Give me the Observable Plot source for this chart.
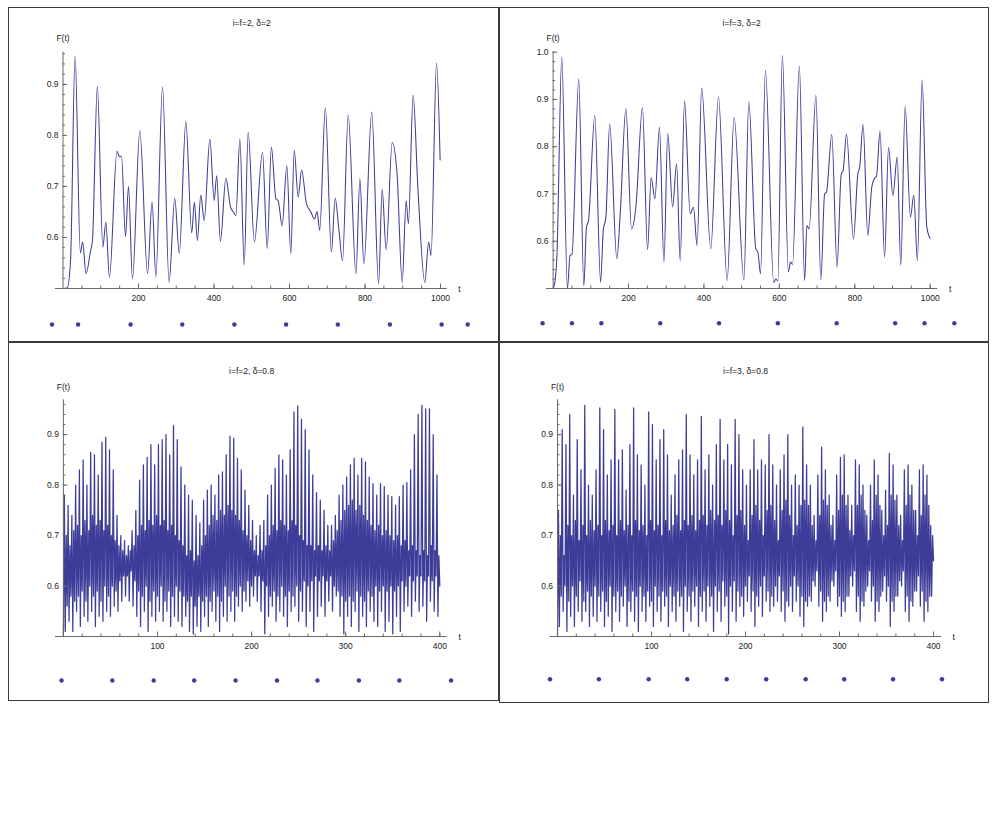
<!DOCTYPE html>
<html><head><meta charset="utf-8">
<script src="https://cdn.jsdelivr.net/npm/d3@7"></script>
<script src="https://cdn.jsdelivr.net/npm/@observablehq/plot@0.6"></script>
<style>
body{margin:0;background:#fff;}
#wrap{position:relative;width:997px;height:822px;background:#fff;overflow:hidden;}
.border{position:absolute;box-sizing:border-box;border:1px solid #3a3a3a;}
.pl{position:absolute;}
.pl svg{overflow:visible;}
</style></head><body><div id="wrap"></div>
<script>
// ---------- Panel 1: i=f=2, delta=2 (smooth curve, key points) ----------
const title1 = "i=f=2, δ=2";
const t1 = [0,11,20,32,46,52,61,73,78,91,105.5,113.5,123,143,150,155,165.6,173.5,184,203.5,224,236,246,263.6,281,296,308,325.5,341,348,356,365,374,389,400.5,407,417,431.5,444,452.5,458,468.5,480,490.5,507,528.5,541,552,564,570,580.5,593,603.5,612.5,623,632,645,656,666,673,680,695,711,721,731,740.5,755.5,776,786.5,797,818,836,845.5,856,872,885,898.5,909,915,927.5,940,958.5,968.5,975,989.5,999];
const f1 = [0.500,0.501,0.555,0.956,0.570,0.591,0.529,0.574,0.594,0.896,0.581,0.630,0.522,0.769,0.758,0.759,0.602,0.700,0.519,0.809,0.530,0.670,0.523,0.895,0.512,0.677,0.569,0.827,0.609,0.669,0.594,0.683,0.633,0.793,0.672,0.721,0.593,0.716,0.659,0.649,0.643,0.793,0.546,0.806,0.591,0.767,0.578,0.777,0.676,0.672,0.623,0.741,0.568,0.771,0.679,0.732,0.666,0.651,0.636,0.651,0.614,0.854,0.571,0.677,0.614,0.555,0.840,0.529,0.715,0.548,0.846,0.509,0.695,0.576,0.786,0.724,0.512,0.672,0.627,0.879,0.698,0.512,0.591,0.565,0.942,0.752];
const dots1 = [-29,40,179,316,454,591,728,866,1003,1072];

// ---------- Panel 2: i=f=3, delta=2 ----------
const title2 = "i=f=3, δ=2";
const t2 = [0,5,10,23,38,45,50,68,81.5,88.5,94,110.5,126,133,140,150,169,178,193,208,219.5,237,250.5,260,270,282,294,304,317,327.5,337,348.5,363.5,372,382,394,418,438.5,461.5,480,506,519,537.5,543,550,563,585,590.5,596,608,624,629.5,635,653,667,673,679,697,710,720,725,739,753,764,769,778,796.5,808,813,822,834.5,845,854,857.5,867,879,889.5,901,912.5,922,933.5,947.5,956.5,966,978.5,991,1000];
const f2 = [0.500,0.515,0.566,0.990,0.500,0.570,0.572,0.943,0.506,0.630,0.644,0.866,0.513,0.623,0.651,0.848,0.563,0.658,0.881,0.626,0.672,0.883,0.582,0.735,0.690,0.841,0.556,0.828,0.673,0.764,0.559,0.897,0.658,0.672,0.591,0.924,0.584,0.905,0.517,0.862,0.518,0.895,0.584,0.577,0.531,0.962,0.513,0.520,0.516,0.993,0.535,0.556,0.551,0.971,0.517,0.633,0.626,0.909,0.518,0.700,0.704,0.826,0.545,0.742,0.749,0.827,0.605,0.742,0.757,0.847,0.612,0.714,0.735,0.737,0.833,0.566,0.799,0.697,0.778,0.549,0.885,0.651,0.697,0.559,0.941,0.630,0.606];
const dots2 = [-28,50,128,284,440,596,752,907,985,1064];

// ---------- Panel 3: i=f=2, delta=0.8 (one value per unit of t, t = 0..400) ----------
const title3 = "i=f=2, δ=0.8";
const f3 = [0.50,
0.78,0.51,0.70,0.56, 0.76,0.53,0.68,0.58, 0.74,0.51,0.71,0.57, 0.80,0.55,0.72,0.58, 0.83,0.52,0.70,0.59,
0.85,0.54,0.73,0.57, 0.80,0.53,0.71,0.60, 0.865,0.55,0.74,0.58, 0.86,0.52,0.72,0.59, 0.82,0.54,0.73,0.57,
0.885,0.53,0.71,0.60, 0.895,0.55,0.72,0.58, 0.87,0.54,0.70,0.60, 0.83,0.56,0.69,0.59, 0.74,0.55,0.68,0.61,
0.70,0.57,0.67,0.62, 0.69,0.58,0.66,0.62, 0.68,0.57,0.67,0.63, 0.71,0.56,0.68,0.61, 0.75,0.54,0.70,0.59,
0.81,0.52,0.72,0.58, 0.84,0.55,0.71,0.60, 0.855,0.51,0.73,0.57, 0.88,0.54,0.72,0.59, 0.84,0.53,0.74,0.58,
0.88,0.55,0.72,0.60, 0.89,0.53,0.73,0.57, 0.90,0.55,0.71,0.59, 0.86,0.52,0.72,0.58, 0.918,0.54,0.70,0.60,
0.89,0.53,0.69,0.59, 0.836,0.52,0.68,0.58, 0.80,0.54,0.66,0.57, 0.78,0.51,0.67,0.58, 0.77,0.505,0.65,0.56,
0.74,0.52,0.66,0.58, 0.725,0.51,0.68,0.57, 0.77,0.54,0.70,0.58, 0.79,0.52,0.72,0.57, 0.80,0.55,0.74,0.59,
0.78,0.53,0.73,0.58, 0.82,0.51,0.75,0.57, 0.826,0.54,0.74,0.60, 0.86,0.53,0.76,0.58, 0.897,0.55,0.75,0.59,
0.893,0.53,0.74,0.58, 0.853,0.56,0.73,0.60, 0.83,0.55,0.71,0.59, 0.79,0.57,0.70,0.61, 0.76,0.56,0.69,0.60,
0.73,0.58,0.67,0.62, 0.70,0.57,0.66,0.62, 0.72,0.55,0.67,0.61, 0.73,0.505,0.68,0.60, 0.78,0.54,0.70,0.58,
0.80,0.56,0.72,0.59, 0.833,0.53,0.71,0.58, 0.86,0.55,0.73,0.60, 0.85,0.54,0.72,0.58, 0.82,0.52,0.71,0.59,
0.87,0.55,0.73,0.58, 0.945,0.56,0.72,0.60, 0.957,0.53,0.70,0.59, 0.93,0.55,0.69,0.61, 0.91,0.52,0.68,0.60,
0.87,0.55,0.68,0.61, 0.82,0.51,0.67,0.62, 0.785,0.54,0.68,0.61, 0.77,0.56,0.67,0.62, 0.75,0.54,0.68,0.61,
0.72,0.57,0.67,0.62, 0.72,0.55,0.69,0.60, 0.74,0.58,0.71,0.59, 0.78,0.54,0.73,0.58, 0.80,0.505,0.75,0.57,
0.816,0.54,0.76,0.58, 0.84,0.52,0.77,0.57, 0.853,0.55,0.75,0.59, 0.82,0.51,0.76,0.58, 0.853,0.54,0.74,0.57,
0.846,0.52,0.73,0.59, 0.816,0.55,0.72,0.58, 0.803,0.53,0.71,0.60, 0.78,0.52,0.72,0.59, 0.803,0.55,0.70,0.60,
0.797,0.51,0.71,0.59, 0.78,0.53,0.70,0.60, 0.777,0.505,0.69,0.59, 0.76,0.54,0.70,0.60, 0.777,0.51,0.68,0.61,
0.80,0.55,0.69,0.60, 0.805,0.56,0.67,0.62, 0.83,0.54,0.68,0.61, 0.90,0.57,0.67,0.62, 0.94,0.55,0.66,0.62,
0.958,0.56,0.67,0.61, 0.951,0.53,0.66,0.62, 0.951,0.57,0.68,0.61, 0.90,0.55,0.67,0.62, 0.82,0.54,0.66,0.60];
const dots3 = [-2,52,96,139,183,227,270,314,357,412];

// ---------- Panel 4: i=f=3, delta=0.8 (one value per unit of t, t = 0..400) ----------
const title4 = "i=f=3, δ=0.8";
const f4 = [0.50,
0.75,0.52,0.70,0.58, 0.91,0.55,0.66,0.60, 0.88,0.51,0.72,0.57, 0.94,0.54,0.70,0.60, 0.78,0.52,0.73,0.58,
0.89,0.55,0.69,0.61, 0.83,0.53,0.72,0.57, 0.958,0.55,0.70,0.59, 0.80,0.52,0.73,0.58, 0.78,0.54,0.71,0.60,
0.83,0.53,0.72,0.58, 0.953,0.55,0.70,0.59, 0.91,0.52,0.73,0.57, 0.82,0.54,0.71,0.60, 0.85,0.51,0.72,0.58,
0.95,0.55,0.70,0.59, 0.85,0.53,0.73,0.58, 0.87,0.56,0.71,0.60, 0.79,0.52,0.72,0.57, 0.88,0.55,0.70,0.59,
0.953,0.53,0.73,0.58, 0.86,0.51,0.71,0.60, 0.84,0.55,0.72,0.58, 0.80,0.53,0.70,0.59, 0.945,0.56,0.73,0.57,
0.92,0.52,0.71,0.60, 0.85,0.55,0.72,0.58, 0.89,0.53,0.70,0.59, 0.91,0.56,0.73,0.58, 0.86,0.52,0.71,0.60,
0.78,0.55,0.72,0.58, 0.82,0.53,0.74,0.59, 0.85,0.56,0.71,0.58, 0.87,0.51,0.73,0.60, 0.94,0.55,0.72,0.58,
0.86,0.53,0.74,0.59, 0.82,0.56,0.71,0.60, 0.85,0.52,0.73,0.58, 0.936,0.55,0.74,0.59, 0.83,0.53,0.72,0.60,
0.86,0.56,0.75,0.58, 0.80,0.51,0.73,0.60, 0.88,0.55,0.74,0.59, 0.93,0.53,0.72,0.61, 0.85,0.56,0.75,0.58,
0.88,0.505,0.73,0.60, 0.84,0.55,0.70,0.61, 0.93,0.53,0.74,0.59, 0.90,0.56,0.75,0.58, 0.83,0.54,0.72,0.60,
0.80,0.57,0.69,0.62, 0.83,0.55,0.74,0.59, 0.89,0.52,0.76,0.58, 0.83,0.56,0.73,0.60, 0.85,0.54,0.70,0.62,
0.84,0.57,0.75,0.59, 0.90,0.55,0.76,0.58, 0.84,0.56,0.73,0.60, 0.80,0.57,0.69,0.62, 0.83,0.55,0.75,0.59,
0.86,0.53,0.77,0.57, 0.90,0.56,0.74,0.60, 0.80,0.55,0.70,0.62, 0.82,0.57,0.72,0.60, 0.80,0.54,0.76,0.58,
0.915,0.52,0.77,0.57, 0.84,0.56,0.76,0.58, 0.80,0.57,0.72,0.61, 0.74,0.60,0.69,0.63, 0.82,0.56,0.74,0.59,
0.875,0.53,0.77,0.57, 0.83,0.55,0.76,0.58, 0.78,0.57,0.72,0.61, 0.74,0.60,0.69,0.63, 0.82,0.56,0.75,0.58,
0.855,0.54,0.78,0.57, 0.86,0.55,0.76,0.58, 0.78,0.58,0.71,0.62, 0.76,0.60,0.70,0.63, 0.85,0.55,0.76,0.58,
0.84,0.53,0.78,0.57, 0.80,0.56,0.75,0.59, 0.74,0.60,0.69,0.63, 0.80,0.57,0.73,0.60, 0.85,0.53,0.78,0.57,
0.82,0.55,0.76,0.58, 0.75,0.59,0.70,0.62, 0.79,0.57,0.72,0.60, 0.863,0.52,0.78,0.57, 0.84,0.55,0.77,0.58,
0.78,0.58,0.72,0.61, 0.74,0.60,0.69,0.63, 0.83,0.55,0.76,0.58, 0.84,0.53,0.78,0.57, 0.80,0.56,0.75,0.59,
0.75,0.59,0.70,0.62, 0.83,0.56,0.74,0.59, 0.84,0.53,0.78,0.57, 0.82,0.55,0.76,0.58, 0.72,0.58,0.70,0.65];
const dots4 = [-8,44,97,138,180,222,264,305,357,409];

// ---------- tick labels ----------
const xMajorLong = [200,400,600,800,1000];
const xMajorShort = [100,200,300,400];
const yMajor096 = [0.6,0.7,0.8,0.9];
const yMajor100 = [0.6,0.7,0.8,0.9,1.0];

const COLOR = "#3d3d99";
const AXIS = "#6a6a6a";
const TXT = "#222";

const wrap = document.getElementById("wrap");

function panel(cfg) {
  const b = document.createElement("div");
  b.className = "border";
  Object.assign(b.style, {left: cfg.left + "px", top: cfg.top + "px", width: cfg.bw + "px", height: cfg.bh + "px"});
  wrap.appendChild(b);

  const {W, H, ml, mr, mt, mb} = cfg;
  const frameH = H - mt - mb, frameW = W - ml - mr;
  const yTop = cfg.yTop;
  const svg = Plot.plot({
    width: W, height: H,
    marginLeft: ml, marginRight: mr, marginTop: mt, marginBottom: mb,
    style: {fontFamily: "'Liberation Sans', Arial, sans-serif", fontSize: "8.5px", background: "transparent", overflow: "visible"},
    x: {domain: cfg.xDomain, axis: null},
    y: {domain: [0.5, yTop], axis: null},
    marks: [
      Plot.line(cfg.data, {x: "t", y: "f", stroke: COLOR, strokeWidth: cfg.sw, curve: cfg.curve}),
      Plot.ruleY([0.5], {x1: cfg.xExt[0], x2: cfg.xExt[1], stroke: AXIS}),
      Plot.ruleX([0], {y1: 0.5, y2: yTop, stroke: AXIS}),
      Plot.tickX(cfg.xMinor, {x: d => d, insetTop: frameH - 2.5, stroke: AXIS}),
      Plot.tickX(cfg.xMajor, {x: d => d, insetTop: frameH - 4.5, stroke: AXIS}),
      Plot.tickY(cfg.yMinor, {y: d => d, insetRight: frameW - 2.5, stroke: AXIS}),
      Plot.tickY(cfg.yMajor, {y: d => d, insetRight: frameW - 4.5, stroke: AXIS}),
      Plot.text(cfg.xMajor, {x: d => d, text: d => String(d), frameAnchor: "bottom", dy: 10, lineAnchor: "middle", textAnchor: "middle", fill: TXT}),
      Plot.text(cfg.yMajor, {y: d => d, text: d => d.toFixed(1), frameAnchor: "left", dx: -4.5, lineAnchor: "middle", textAnchor: "end", fill: TXT}),
      Plot.text([cfg.title], {frameAnchor: "top", dy: cfg.titleDy, lineAnchor: "middle", textAnchor: "middle", fill: TXT}),
      Plot.text(["F(t)"], {frameAnchor: "top-left", dy: cfg.fDy, lineAnchor: "middle", textAnchor: "middle", fill: TXT}),
      Plot.text(["t"], {frameAnchor: "bottom-right", dx: cfg.tDx, dy: 0.5, lineAnchor: "middle", textAnchor: "middle", fill: TXT}),
      Plot.dot(cfg.dots, {x: d => d, frameAnchor: "bottom", dy: cfg.dotDy, r: 2.2, fill: COLOR, stroke: "none"})
    ]
  });
  const holder = document.createElement("div");
  holder.className = "pl";
  Object.assign(holder.style, {left: cfg.left + "px", top: cfg.top + "px"});
  holder.appendChild(svg);
  wrap.appendChild(holder);
}

const range = (a, b, s) => d3.range(a, b + s / 2, s).map(v => +v.toFixed(3));

const data1 = t1.map((t, i) => ({t, f: f1[i]}));
const data2 = t2.map((t, i) => ({t, f: f2[i]}));
const data3 = f3.map((f, t) => ({t, f}));
const data4 = f4.map((f, t) => ({t, f}));

const commonTop = {xDomain: [0, 1000], xMinor: range(50, 1000, 50), xMajor: xMajorLong, curve: "monotone-x", sw: 1.05, titleDy: -28.7, fDy: -13.7};
const commonBot = {xDomain: [0, 400], xMinor: range(20, 400, 20), xMajor: xMajorShort, curve: "linear", sw: 1.25, titleDy: -28.3, fDy: -12.8};

panel({...commonTop, left: 8, top: 7, bw: 491, bh: 335, W: 491, H: 335, ml: 54.5, mr: 59, mt: 44.7, mb: 54,
  yTop: 0.963, yMinor: range(0.52, 0.96, 0.02), yMajor: yMajor096, xExt: [-20, 1018],
  data: data1, title: title1, dots: dots1, dotDy: 36, tDx: 19});
panel({...commonTop, left: 499, top: 7, bw: 490, bh: 335, W: 490, H: 335, ml: 53.6, mr: 59.3, mt: 44.7, mb: 54,
  yTop: 1.0, yMinor: range(0.52, 1.0, 0.02), yMajor: yMajor100, xExt: [-18, 1020],
  data: data2, title: title2, dots: dots2, dotDy: 34.7, tDx: 20});
panel({...commonBot, left: 8, top: 342, bw: 491, bh: 359, W: 490, H: 359, ml: 54.9, mr: 58.7, mt: 57.3, mb: 65,
  yTop: 0.969, yMinor: range(0.52, 0.96, 0.02), yMajor: yMajor096, xExt: [-8.4, 408],
  data: data3, title: title3, dots: dots3, dotDy: 44, tDx: 20});
panel({...commonBot, left: 499, top: 342, bw: 490, bh: 361, W: 489, H: 361, ml: 58, mr: 55, mt: 57.3, mb: 67,
  yTop: 0.969, yMinor: range(0.52, 0.96, 0.02), yMajor: yMajor096, xExt: [-8.2, 408.5],
  data: data4, title: title4, dots: dots4, dotDy: 42.7, tDx: 20.3});
</script></body></html>
